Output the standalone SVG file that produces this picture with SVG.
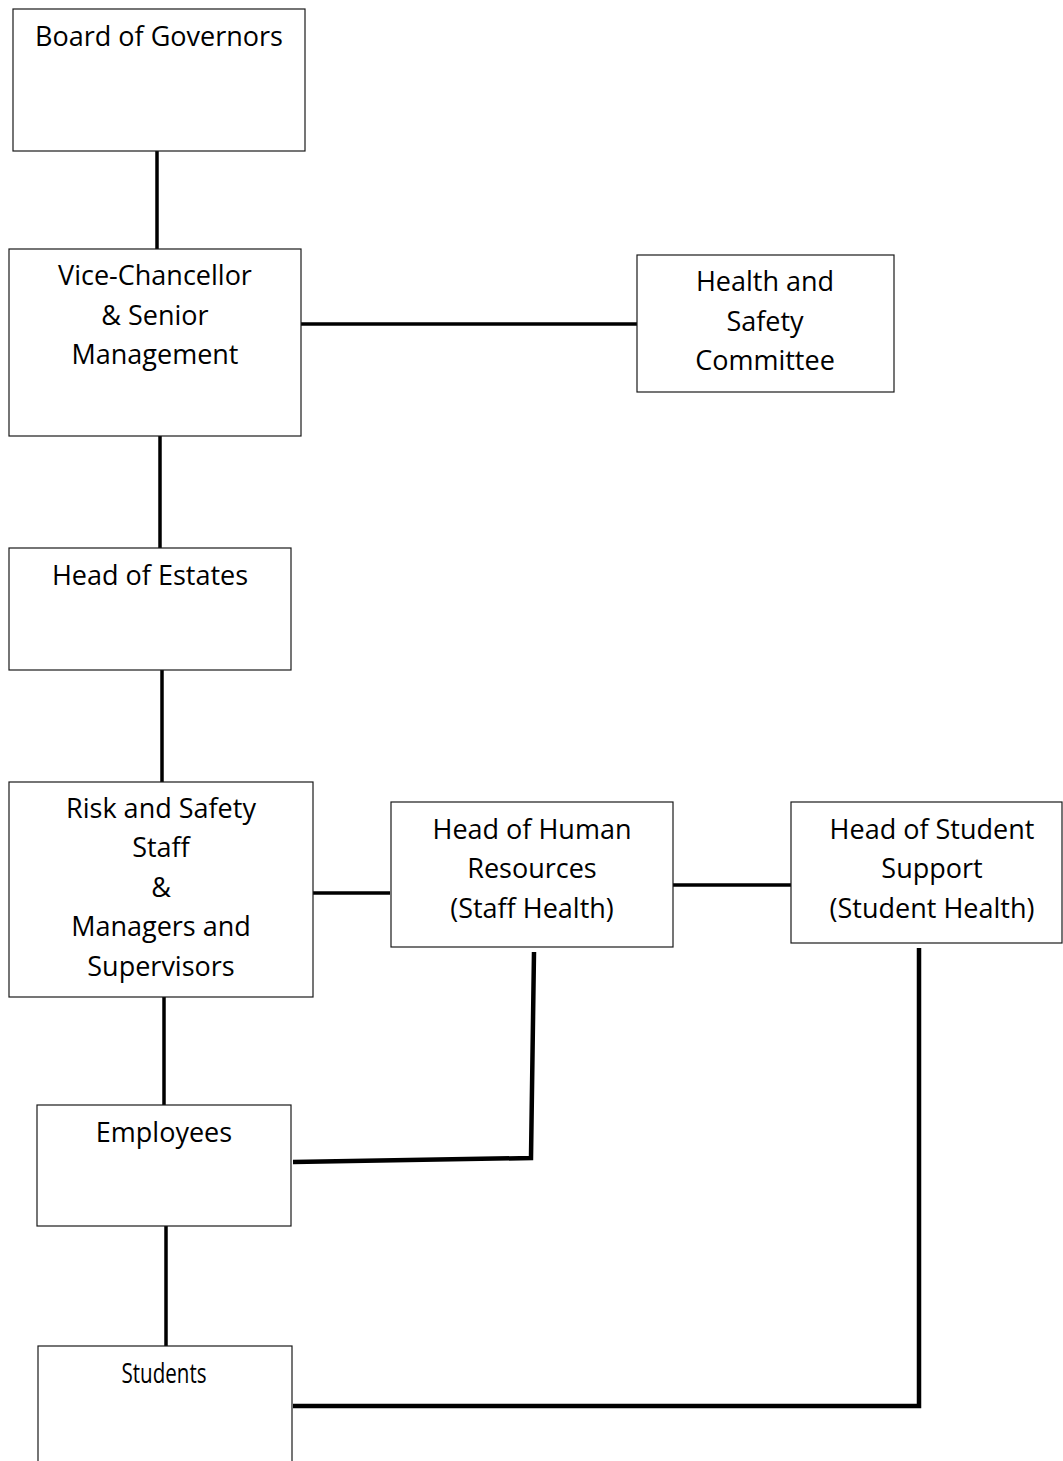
<svg xmlns="http://www.w3.org/2000/svg" width="1063" height="1461" viewBox="0 0 1063 1461">
<style>
.box{fill:#fff;stroke:#1a1a1a;stroke-width:1.2}
.t{font-family:"Open Sans","DejaVu Sans","Liberation Sans",sans-serif;font-size:27px;fill:#000;text-anchor:middle}
.c{fill:none;stroke:#000;stroke-width:3.5;stroke-linecap:butt}
.c4{fill:none;stroke:#000;stroke-width:4.5}
</style>
<rect width="1063" height="1461" fill="#fff"/>
<g id="connectors">
<line class="c" x1="157" y1="151" x2="157" y2="249"/>
<line class="c" x1="301" y1="324" x2="637" y2="324"/>
<line class="c" x1="160" y1="436" x2="160" y2="548"/>
<line class="c" x1="162" y1="670" x2="162" y2="782"/>
<line class="c" x1="313" y1="893" x2="390" y2="893"/>
<line class="c" x1="673" y1="885" x2="793" y2="885"/>
<line class="c" x1="164" y1="997" x2="164" y2="1105"/>
<polyline class="c4" points="534,952 531,1158 293,1162"/>
<line class="c" x1="166" y1="1226" x2="166" y2="1346"/>
<polyline class="c4" points="919,948 919,1406 293,1406"/>
</g>
<g id="board">
<rect class="box" x="13" y="9" width="292" height="142"/>
<text class="t" x="159" y="46">Board of Governors</text>
</g>
<g id="vc">
<rect class="box" x="9" y="249" width="292" height="187"/>
<text class="t" x="155" y="285">Vice-Chancellor</text>
<text class="t" x="155" y="325">&amp; Senior</text>
<text class="t" x="155" y="364">Management</text>
</g>
<g id="hsc">
<rect class="box" x="637" y="255" width="257" height="137"/>
<text class="t" x="765" y="291">Health and</text>
<text class="t" x="765" y="331">Safety</text>
<text class="t" x="765" y="370">Committee</text>
</g>
<g id="estates">
<rect class="box" x="9" y="548" width="282" height="122"/>
<text class="t" x="150" y="585">Head of Estates</text>
</g>
<g id="risk">
<rect class="box" x="9" y="782" width="304" height="215"/>
<text class="t" x="161" y="818">Risk and Safety</text>
<text class="t" x="161" y="857">Staff</text>
<text class="t" x="161" y="897">&amp;</text>
<text class="t" x="161" y="936">Managers and</text>
<text class="t" x="161" y="976">Supervisors</text>
</g>
<g id="hr">
<rect class="box" x="391" y="802" width="282" height="145"/>
<text class="t" x="532" y="839">Head of Human</text>
<text class="t" x="532" y="878">Resources</text>
<text class="t" x="532" y="918">(Staff Health)</text>
</g>
<g id="studentsupport">
<rect class="box" x="791" y="802" width="271" height="141"/>
<text class="t" x="932" y="839">Head of Student</text>
<text class="t" x="932" y="878">Support</text>
<text class="t" x="932" y="918">(Student Health)</text>
</g>
<g id="employees">
<rect class="box" x="37" y="1105" width="254" height="121"/>
<text class="t" x="164" y="1142">Employees</text>
</g>
<g id="students">
<rect class="box" x="38" y="1346" width="254" height="130"/>
<text class="t" x="164" y="1383" textLength="85" lengthAdjust="spacingAndGlyphs">Students</text>
</g>
</svg>
